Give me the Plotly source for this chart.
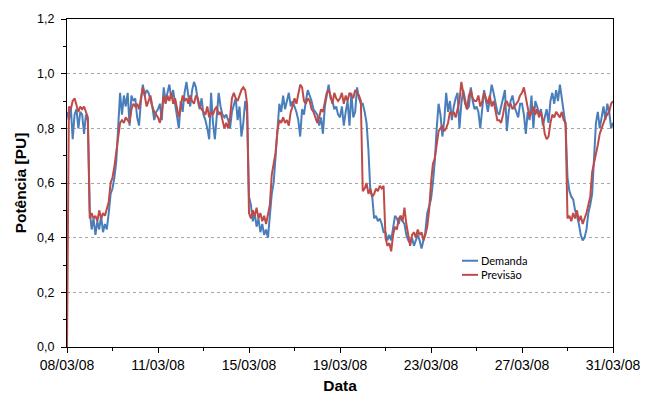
import plotly.graph_objects as go

# Demanda e previsão de potência (PU), amostras a cada 2 horas, 08/03/08 a 31/03/08
# Cada linha da lista corresponde a um dia (12 amostras); último valor fecha o período.
demanda = [
    0.86, 0.83, 0.88, 0.76, 0.85, 0.87, 0.80, 0.86, 0.85, 0.78, 0.85, 0.83,
    0.50, 0.43, 0.47, 0.41, 0.46, 0.43, 0.48, 0.42, 0.45, 0.43, 0.49, 0.56,
    0.58, 0.62, 0.68, 0.80, 0.93, 0.85, 0.92, 0.88, 0.93, 0.81, 0.92, 0.90,
    0.91, 0.84, 0.81, 0.90, 0.96, 0.92, 0.94, 0.93, 0.90, 0.88, 0.83, 0.86,
    0.87, 0.89, 0.83, 0.95, 0.90, 0.93, 0.96, 0.91, 0.94, 0.89, 0.84, 0.80,
    0.90, 0.86, 0.93, 0.97, 0.92, 0.88, 0.94, 0.97, 0.95, 0.90, 0.87, 0.91,
    0.85, 0.83, 0.80, 0.76, 0.93, 0.82, 0.76, 0.86, 0.93, 0.88, 0.85, 0.84,
    0.85, 0.83, 0.80, 0.86, 0.89, 0.91, 0.83, 0.88, 0.77, 0.82, 0.90, 0.86,
    0.55, 0.52, 0.46, 0.49, 0.44, 0.47, 0.42, 0.45, 0.41, 0.43, 0.40, 0.47,
    0.56, 0.60, 0.69, 0.80, 0.89, 0.86, 0.92, 0.87, 0.90, 0.93, 0.88, 0.90,
    0.88, 0.86, 0.83, 0.77, 0.87, 0.85, 0.90, 0.94, 0.92, 0.90, 0.87, 0.86,
    0.85, 0.81, 0.84, 0.78, 0.88, 0.92, 0.96, 0.91, 0.90, 0.87, 0.88, 0.85,
    0.84, 0.88, 0.81, 0.86, 0.90, 0.81, 0.93, 0.84, 0.86, 0.95, 0.91, 0.89,
    0.89, 0.86, 0.82, 0.72, 0.57, 0.55, 0.47, 0.48, 0.46, 0.47, 0.45, 0.42,
    0.42, 0.39, 0.41, 0.39, 0.43, 0.48, 0.47, 0.45, 0.48, 0.46, 0.45, 0.41,
    0.39, 0.38, 0.40, 0.37, 0.39, 0.41, 0.39, 0.36, 0.39, 0.42, 0.49, 0.52,
    0.54, 0.60, 0.68, 0.80, 0.89, 0.85, 0.77, 0.83, 0.93, 0.86, 0.90, 0.83,
    0.88, 0.91, 0.93, 0.80, 0.89, 0.94, 0.91, 0.87, 0.88, 0.95, 0.90, 0.87,
    0.88, 0.86, 0.80, 0.87, 0.94, 0.90, 0.86, 0.91, 0.96, 0.93, 0.90, 0.86,
    0.85, 0.88, 0.92, 0.94, 0.79, 0.86, 0.90, 0.92, 0.88, 0.86, 0.84, 0.89,
    0.89, 0.85, 0.78, 0.86, 0.83, 0.92, 0.80, 0.90, 0.88, 0.85, 0.87, 0.81,
    0.84, 0.87, 0.82, 0.90, 0.93, 0.89, 0.94, 0.90, 0.96, 0.91, 0.85, 0.81,
    0.62, 0.57, 0.55, 0.54, 0.50, 0.48, 0.45, 0.41, 0.39, 0.40, 0.43, 0.49,
    0.52, 0.56, 0.69, 0.82, 0.86, 0.80, 0.84, 0.88, 0.83, 0.89, 0.86, 0.80,
    0.82,
]

previsao = [
    0.00, 0.88, 0.87, 0.90, 0.91, 0.88, 0.86, 0.88, 0.87, 0.88, 0.86, 0.84,
    0.47, 0.49, 0.47, 0.48, 0.46, 0.50, 0.47, 0.49, 0.48, 0.51, 0.53, 0.60,
    0.62, 0.66, 0.72, 0.78, 0.82, 0.83, 0.82, 0.84, 0.83, 0.82, 0.87, 0.89,
    0.88, 0.89, 0.87, 0.91, 0.95, 0.92, 0.88, 0.90, 0.92, 0.88, 0.86, 0.85,
    0.84, 0.82, 0.86, 0.92, 0.89, 0.92, 0.90, 0.93, 0.89, 0.91, 0.87, 0.84,
    0.88, 0.92, 0.90, 0.91, 0.89, 0.92, 0.90, 0.89, 0.92, 0.91, 0.88, 0.87,
    0.86, 0.85, 0.88, 0.84, 0.86, 0.85, 0.87, 0.88, 0.85, 0.86, 0.83, 0.80,
    0.82, 0.80, 0.84, 0.91, 0.93, 0.91, 0.90, 0.92, 0.94, 0.95, 0.94, 0.89,
    0.49, 0.47, 0.50, 0.48, 0.51, 0.47, 0.49, 0.46, 0.48, 0.45, 0.49, 0.52,
    0.63, 0.67, 0.71, 0.79, 0.83, 0.82, 0.84, 0.82, 0.83, 0.81, 0.86, 0.88,
    0.91, 0.89, 0.92, 0.96, 0.95, 0.90, 0.89, 0.91, 0.90, 0.87, 0.86, 0.84,
    0.82, 0.84, 0.87, 0.86, 0.90, 0.93, 0.94, 0.92, 0.89, 0.93, 0.91, 0.90,
    0.91, 0.93, 0.89, 0.92, 0.90, 0.93, 0.92, 0.91, 0.94, 0.93, 0.92, 0.90,
    0.57, 0.58, 0.60, 0.56, 0.58, 0.55, 0.56, 0.58, 0.57, 0.59, 0.58, 0.59,
    0.40, 0.37, 0.38, 0.35, 0.41, 0.44, 0.43, 0.47, 0.48, 0.46, 0.51, 0.45,
    0.41, 0.37, 0.41, 0.42, 0.40, 0.43, 0.41, 0.42, 0.39, 0.41, 0.44, 0.50,
    0.60, 0.67, 0.69, 0.74, 0.79, 0.80, 0.81, 0.79, 0.80, 0.82, 0.86, 0.85,
    0.86, 0.84, 0.87, 0.90, 0.97, 0.93, 0.89, 0.87, 0.92, 0.94, 0.91, 0.90,
    0.90, 0.92, 0.88, 0.90, 0.93, 0.91, 0.89, 0.92, 0.88, 0.90, 0.86, 0.83,
    0.83, 0.82, 0.85, 0.89, 0.90, 0.88, 0.89, 0.87, 0.88, 0.89, 0.90, 0.92,
    0.93, 0.95, 0.91, 0.87, 0.84, 0.86, 0.88, 0.85, 0.87, 0.84, 0.86, 0.83,
    0.78, 0.76, 0.77, 0.82, 0.85, 0.84, 0.86, 0.85, 0.84, 0.86, 0.83, 0.82,
    0.47, 0.48, 0.46, 0.49, 0.47, 0.50, 0.46, 0.48, 0.45, 0.47, 0.49, 0.52,
    0.55, 0.64, 0.67, 0.71, 0.74, 0.78, 0.80, 0.82, 0.84, 0.85, 0.86, 0.89,
    0.90,
]

# Rótulos do eixo das datas (7 marcas igualmente espaçadas)
rotulos_data = ["08/03/08", "11/03/08", "15/03/08", "19/03/08", "23/03/08", "27/03/08", "31/03/08"]

amostras_por_dia = 12
dias = [i / amostras_por_dia for i in range(len(demanda))]
total_dias = dias[-1]
posicoes_rotulos = [k * total_dias / (len(rotulos_data) - 1) for k in range(len(rotulos_data))]

cor_demanda = "#4a7ebb"
cor_previsao = "#be4b48"

fig = go.Figure()
fig.add_trace(go.Scatter(x=dias, y=demanda, mode="lines", name="Demanda",
                         line=dict(color=cor_demanda, width=2), showlegend=False))
fig.add_trace(go.Scatter(x=dias, y=previsao, mode="lines", name="Previsão",
                         line=dict(color=cor_previsao, width=2), showlegend=False))

fonte_eixo = "Liberation Sans, Arial, sans-serif"

fig.update_layout(
    width=654, height=398,
    margin=dict(l=67, r=41, t=19, b=51),
    paper_bgcolor="white", plot_bgcolor="white",
    separators=",.",
    font=dict(family=fonte_eixo, color="black"),
    xaxis=dict(
        range=[0, total_dias], automargin=False,
        tickmode="array", tickvals=posicoes_rotulos, ticktext=rotulos_data,
        ticks="outside", ticklen=5, tickcolor="black",
        tickfont=dict(size=14, family=fonte_eixo),
        showline=True, linecolor="black", linewidth=1, mirror=True,
        showgrid=False, zeroline=False,
        minor=dict(tickmode="array",
                   tickvals=[(posicoes_rotulos[k] + posicoes_rotulos[k + 1]) / 2
                             for k in range(len(posicoes_rotulos) - 1)],
                   ticks="outside", ticklen=3, tickcolor="black", showgrid=False),
        title=dict(text="<b>Data</b>", font=dict(size=15.5, family=fonte_eixo), standoff=8),
    ),
    yaxis=dict(
        range=[0, 1.2], dtick=0.2, tickformat=".1f", automargin=False,
        ticks="outside", ticklen=5, tickcolor="black", ticklabelstandoff=4,
        tickfont=dict(size=12.5, family=fonte_eixo),
        showline=True, linecolor="black", linewidth=1, mirror=True,
        showgrid=True, gridcolor="#a6a6a6", gridwidth=1, griddash="dot",
        zeroline=False,
        minor=dict(dtick=0.1, ticks="outside", ticklen=3, tickcolor="black", showgrid=False),
        title=dict(text="<b>Potência [PU]</b>", font=dict(size=15.5, family=fonte_eixo), standoff=6),
    ),
)

# Legenda desenhada dentro da área do gráfico
legenda = [("Demanda", cor_demanda, 0.263), ("Previsão", cor_previsao, 0.220)]
for texto, cor, yl in legenda:
    fig.add_shape(type="line", xref="paper", yref="paper",
                  x0=0.7234, x1=0.7527, y0=yl, y1=yl,
                  line=dict(color=cor, width=2))
    fig.add_annotation(xref="paper", yref="paper", x=0.7545, y=yl, text=texto,
                       showarrow=False, xanchor="left", yanchor="middle",
                       font=dict(family="Lato, Carlito, sans-serif", size=11, color="black"))

fig.write_html("out.html")
